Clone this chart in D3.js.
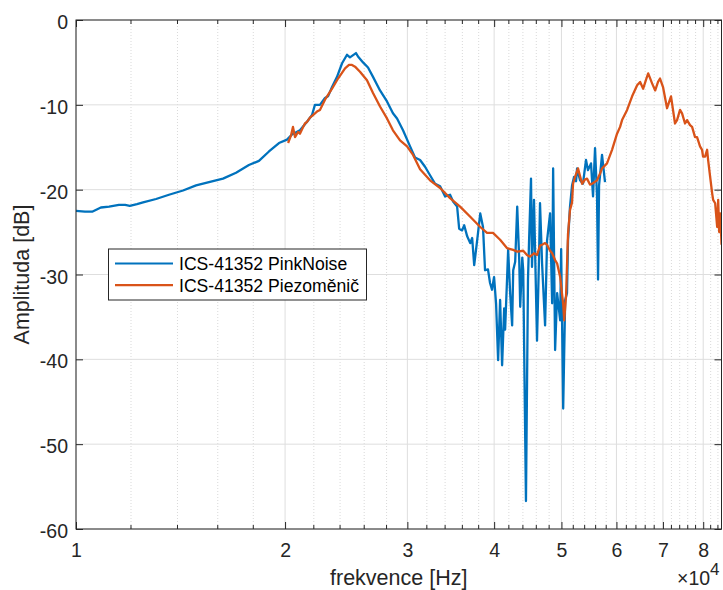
<!DOCTYPE html>
<html>
<head>
<meta charset="utf-8">
<script src="https://cdn.jsdelivr.net/npm/d3@7"></script>
<style>
  body { margin: 0; background: #fff; }
  svg { font-family: "Liberation Sans", Arial, sans-serif; }
</style>
</head>
<body>
<svg id="chart" width="723" height="590"></svg>
<script>
// series (frequency in Hz, amplitude in dB)
const blueFreq = [10000, 10300, 10550, 10860, 11160, 11530, 11770, 11950, 12240, 12490,
  13040, 13610, 14260, 14890, 15540, 16280, 17000, 17740, 18340, 18960,
  19600, 20130, 20460, 21010, 21510, 21870, 22080, 22450, 22830, 23060,
  23370, 23760, 24160, 24560, 24800, 25300, 25470, 25900, 26330, 26770,
  27400, 28040, 28600, 28990, 29570, 30270, 30770, 31290, 31810, 32340,
  32890, 33440, 34000, 34560, 34910, 35380, 35620, 35970, 36220, 36580,
  36950, 37190, 37440, 37820, 38200, 38550, 38810, 39190, 39460, 39720,
  39990, 40260, 40530, 40800, 41070, 41350, 41480, 41760, 41900, 42180,
  42460, 42610, 42890, 43180, 43470, 43610, 43910, 44050, 44450, 44750,
  44900, 45200, 45350, 45650, 46110, 46420, 46570, 46890, 47360, 47670,
  48150, 48480, 48640, 48960, 49290, 49790, 49950, 50290, 50620, 50930,
  51100, 51440, 51790, 52130, 52480, 52660, 53180, 53700, 54240, 54600,
  55150, 55520, 55890, 56260, 56450, 56640, 57200, 57770];
const blueAmp = [-22.5, -22.6, -22.6, -22.1, -22.0, -21.8, -21.8, -21.9, -21.7, -21.5,
  -21.1, -20.6, -20.1, -19.5, -19.1, -18.7, -18.0, -17.1, -16.6, -15.5,
  -14.5, -14.1, -13.5, -13.0, -12.0, -11.2, -10.0, -10.0, -9.2, -9.0,
  -7.9, -6.7, -5.1, -4.1, -4.4, -3.9, -4.3, -5.0, -5.6, -6.7,
  -8.3, -9.6, -11.0, -11.6, -13.0, -14.9, -16.2, -16.5, -17.3, -18.3,
  -19.3, -19.6, -20.8, -20.6, -21.4, -22.0, -24.6, -24.8, -24.2, -25.5,
  -26.3, -25.7, -28.9, -25.9, -22.8, -24.4, -29.5, -29.4, -31.0, -31.8,
  -30.3, -33.5, -40.1, -33.0, -40.7, -34.0, -36.5, -30.3, -27.1, -32.2,
  -36.0, -29.5, -28.5, -22.0, -28.3, -33.8, -28.0, -29.5, -56.7, -30.6,
  -26.3, -18.7, -29.1, -21.2, -37.8, -28.0, -21.6, -28.7, -36.0, -26.0,
  -22.8, -33.4, -17.5, -38.9, -32.2, -35.4, -27.0, -45.8, -33.0, -32.2,
  -26.0, -22.0, -19.5, -18.5, -19.0, -17.5, -18.9, -19.3, -16.5, -17.7,
  -16.9, -20.8, -15.1, -20.8, -30.6, -19.5, -15.9, -19.1];

const orangeFreq = [20200, 20400, 20530, 20670, 20880, 21010, 21150, 21360, 21510, 21720,
  21940, 22230, 22450, 22830, 23370, 23840, 24400, 24720, 24970, 25220,
  25640, 26240, 26770, 27400, 28040, 28600, 29280, 29970, 30570, 31290,
  32340, 33440, 34560, 35730, 36950, 38200, 39070, 39850, 40800, 41760,
  42610, 43180, 44050, 44600, 45050, 45650, 46110, 46570, 46890, 47360,
  47670, 48150, 48480, 48960, 49290, 49790, 50290, 50460, 50770, 51100,
  51440, 51790, 51960, 52310, 52830, 53540, 54060, 54420, 54960, 55340,
  56260, 56830, 57200, 58150, 59130, 60120, 60730, 61130, 62160, 63200,
  64260, 64900, 65560, 66210, 66660, 67550, 68230, 68870, 69330, 70020,
  70960, 71900, 72860, 73350, 74080, 74580, 75320, 75830, 76580, 77100,
  77860, 78380, 79160, 79690, 79960, 80500, 81040, 81310, 81860, 82400,
  82680, 83230, 83790, 84070, 84350, 84630, 84920, 85000];
const orangeAmp = [-14.5, -13.6, -12.6, -13.8, -13.2, -13.4, -12.9, -12.2, -12.0, -11.5,
  -11.2, -10.8, -10.6, -9.4, -8.1, -6.9, -5.7, -5.3, -5.3, -5.5,
  -6.1, -7.1, -8.6, -10.2, -11.6, -13.0, -14.2, -14.9, -15.9, -17.6,
  -18.9, -19.8, -21.0, -22.0, -23.2, -24.4, -25.1, -25.1, -25.9, -26.9,
  -27.1, -27.3, -27.2, -27.7, -27.9, -27.5, -27.7, -26.6, -26.5, -26.3,
  -26.5, -27.2, -27.5, -28.3, -28.7, -30.3, -33.5, -35.4, -32.5, -25.2,
  -22.4, -21.5, -19.3, -18.5, -17.5, -19.3, -18.8, -18.7, -19.4, -19.3,
  -18.9, -18.1, -17.5, -16.9, -15.3, -13.4, -12.6, -11.8, -10.6, -9.0,
  -7.7, -7.3, -8.1, -7.0, -6.3, -7.5, -8.3, -7.3, -6.9, -7.9,
  -10.4, -9.0, -12.2, -11.8, -10.6, -11.0, -12.2, -11.8, -12.4, -12.6,
  -13.8, -13.8, -14.9, -15.3, -16.1, -16.1, -15.3, -16.5, -18.5, -20.4,
  -21.2, -21.6, -24.4, -21.2, -25.0, -22.8, -25.5, -26.5];

const seriesNames = ["ICS-41352 PinkNoise", "ICS-41352 Piezoměnič"];
const seriesColors = ["#0072bd", "#d95319"];
const xMajorTicks = [10000, 20000, 30000, 40000, 50000, 60000, 70000, 80000];
const yTicks = [-60, -50, -40, -30, -20, -10, 0];

var plotLeft = 76, plotRight = 721.5, plotTop = 20, plotBottom = 529;
var tickFont = 19.5;

var svg = d3.select("#chart");

var x = d3.scaleLog().domain([10000, 85000]).range([plotLeft, plotRight]);
var y = d3.scaleLinear().domain([-60, 0]).range([plotBottom, plotTop]);

// minor ticks every 2000 Hz, skipping the major ones
var xMinorTicks = d3.range(12000, 85000, 2000).filter(function(d) { return d % 10000 != 0; });

//grid first, so the curves sit on top
var grid = svg.append("g");
grid.selectAll(".minor").data(xMinorTicks).enter().append("line")
  .attr("x1", function(d) { return x(d); }).attr("x2", function(d) { return x(d); })
  .attr("y1", plotTop).attr("y2", plotBottom)
  .attr("stroke", "#cfcfcf").attr("stroke-width", 0.8)
  .attr("stroke-dasharray", "1,2");
grid.selectAll(".majx").data(xMajorTicks).enter().append("line")
  .attr("x1", function(d) { return x(d); }).attr("x2", function(d) { return x(d); })
  .attr("y1", plotTop).attr("y2", plotBottom)
  .attr("stroke", "#dedede").attr("stroke-width", 1);
grid.selectAll(".majy").data(yTicks).enter().append("line")
  .attr("x1", plotLeft).attr("x2", plotRight)
  .attr("y1", function(d) { return y(d); }).attr("y2", function(d) { return y(d); })
  .attr("stroke", "#dedede").attr("stroke-width", 1);

svg.append("clipPath").attr("id", "clip")
  .append("rect").attr("x", plotLeft).attr("y", plotTop)
  .attr("width", plotRight - plotLeft).attr("height", plotBottom - plotTop);

var line = d3.line()
  .x(function(d) { return x(d[0]); })
  .y(function(d) { return y(d[1]); });

var blueData = d3.zip(blueFreq, blueAmp);
var orangeData = d3.zip(orangeFreq, orangeAmp);

var plot = svg.append("g").attr("clip-path", "url(#clip)");
[blueData, orangeData].forEach(function(data, i) {
  plot.append("path")
    .datum(data)
    .attr("d", line)
    .attr("fill", "none")
    .attr("stroke", seriesColors[i])
    .attr("stroke-width", 2.3)
    .attr("stroke-linejoin", "round");
});

// axes: ticks point inward, labels from d3 axis
var xAxis = svg.append("g").attr("transform", "translate(0," + plotBottom + ")")
  .call(d3.axisBottom(x).tickValues(xMajorTicks).tickSize(-7).tickPadding(14)
    .tickFormat(function(d) { return d / 10000; }));
var xAxisTop = svg.append("g").attr("transform", "translate(0," + plotTop + ")")
  .call(d3.axisTop(x).tickValues(xMajorTicks).tickSize(-7).tickFormat(""));
var yAxis = svg.append("g").attr("transform", "translate(" + plotLeft + ",0)")
  .call(d3.axisLeft(y).tickValues(yTicks).tickSize(-7).tickPadding(8)
    .tickFormat(function(d) { return String(d); }));   // plain hyphen like the original
var yAxisRight = svg.append("g").attr("transform", "translate(" + plotRight + ",0)")
  .call(d3.axisRight(y).tickValues(yTicks).tickSize(-7).tickFormat(""));

[xAxis, xAxisTop, yAxis, yAxisRight].forEach(function(a) {
  a.select(".domain").remove();
  a.selectAll("line").attr("stroke", "#262626");
  a.selectAll("text").attr("fill", "#262626")
    .style("font-size", tickFont + "px").style("font-family", "Liberation Sans, Arial, sans-serif");
});
yAxis.selectAll("text").attr("dy", "0.44em");

//minor ticks on bottom and top
svg.append("g").selectAll("line").data(xMinorTicks).enter().append("line")
  .attr("x1", function(d) { return x(d); }).attr("x2", function(d) { return x(d); })
  .attr("y1", plotBottom).attr("y2", plotBottom - 4)
  .attr("stroke", "#262626");
svg.append("g").selectAll("line").data(xMinorTicks).enter().append("line")
  .attr("x1", function(d) { return x(d); }).attr("x2", function(d) { return x(d); })
  .attr("y1", plotTop).attr("y2", plotTop + 4)
  .attr("stroke", "#262626");

// box
svg.append("rect")
  .attr("x", plotLeft).attr("y", plotTop)
  .attr("width", plotRight - plotLeft).attr("height", plotBottom - plotTop)
  .attr("fill", "none").attr("stroke", "#262626").attr("stroke-width", 1);

// axis labels
svg.append("text")
  .attr("x", (plotLeft + plotRight) / 2).attr("y", 585)
  .attr("text-anchor", "middle")
  .attr("fill", "#262626").style("font-size", "21.5px")
  .text("frekvence [Hz]");

svg.append("text")
  .attr("transform", "translate(29," + ((plotTop + plotBottom) / 2) + ") rotate(-90)")
  .attr("text-anchor", "middle")
  .attr("fill", "#262626").style("font-size", "21.5px")
  .text("Amplituda [dB]");

// exponent note, kept just inside the bottom edge
svg.append("text")
  .attr("x", 677).attr("y", 585)
  .attr("fill", "#262626").style("font-size", tickFont + "px")
  .text("×10");
svg.append("text")
  .attr("x", 710).attr("y", 575)
  .attr("fill", "#262626").style("font-size", "17px")
  .text("4");

// legend
var legend = svg.append("g");
legend.append("rect")
  .attr("x", 108.5).attr("y", 249)
  .attr("width", 258).attr("height", 51)
  .attr("fill", "#fff").attr("stroke", "#262626").attr("stroke-width", 1);

var rows = legend.selectAll(".row")
  .data(seriesNames)
  .enter().append("g")
  .attr("class", "row")
  .attr("transform", function(d, i) {
    return "translate(0," + (263.5 + 21.7 * i) + ")";
  });
rows.append("line")
  .attr("x1", 115).attr("x2", 173)
  .attr("y1", 0).attr("y2", 0)
  .attr("stroke", function(d, i) { return seriesColors[i]; })
  .attr("stroke-width", 2.2);
rows.append("text")
  .attr("x", 179).attr("y", 6.3)
  .attr("fill", "#000").style("font-size", "17.6px")
  .text(function(d) { return d; });
</script>
</body>
</html>
